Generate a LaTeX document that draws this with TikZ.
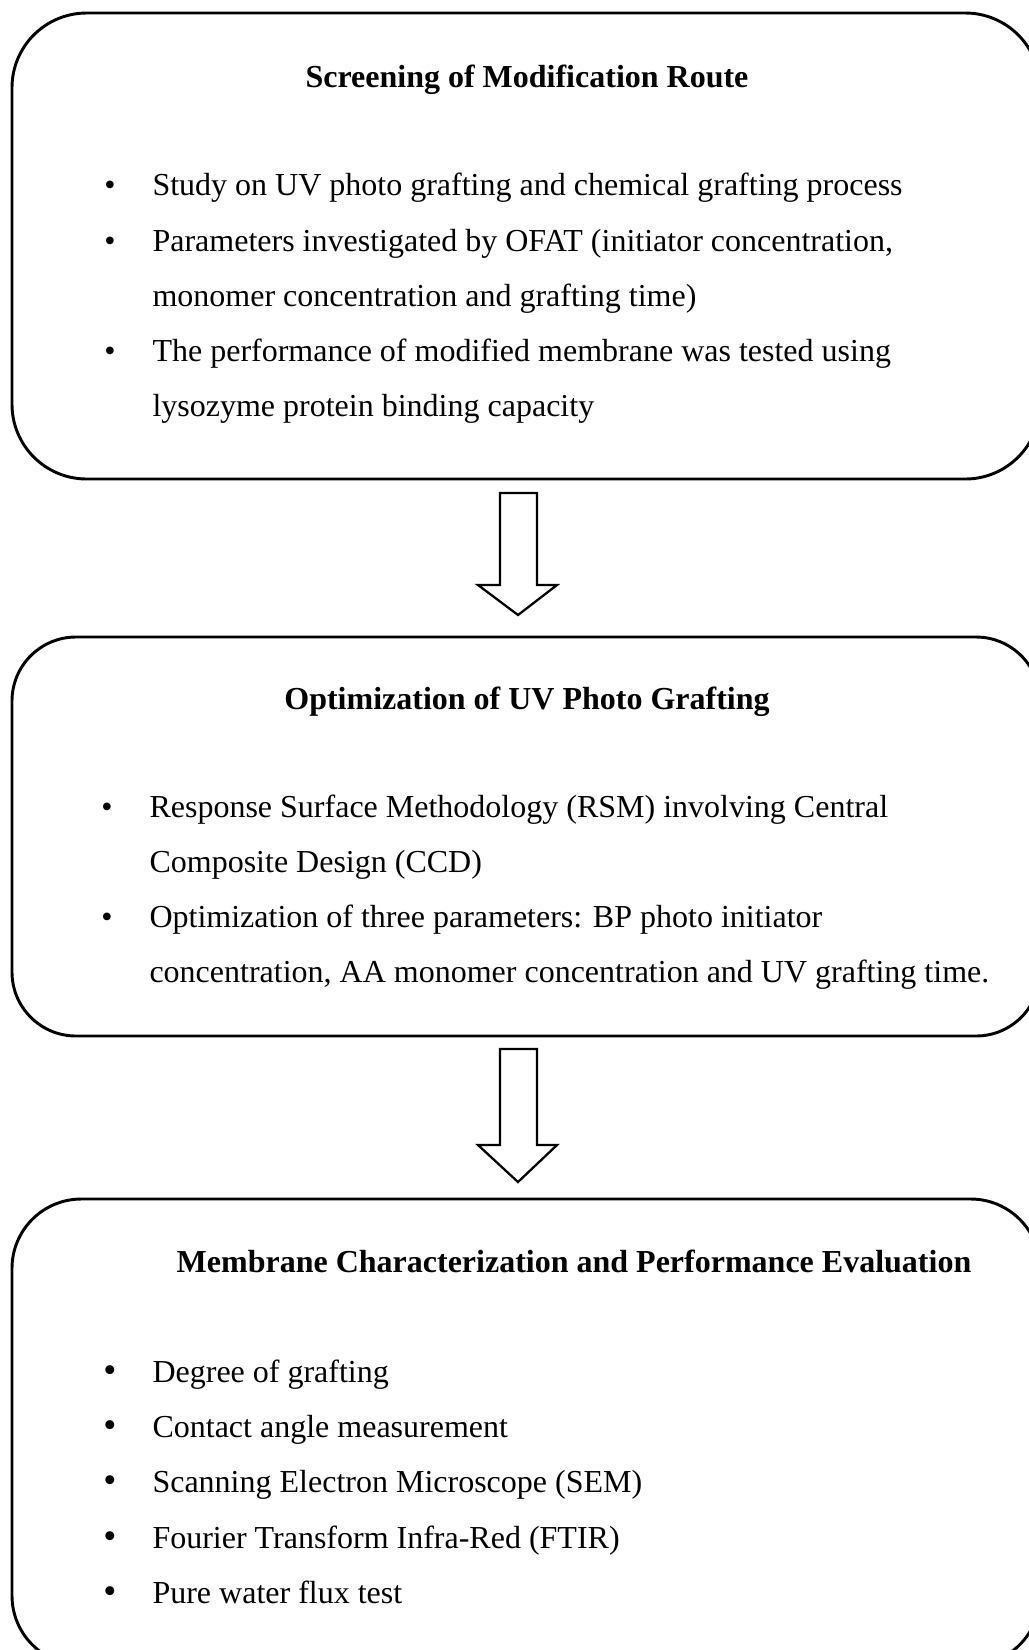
\documentclass[tikz,border=0pt]{standalone}
\usepackage{fontspec}
\setmainfont{Liberation Serif}
\usetikzlibrary{positioning}

\begin{document}
\begin{tikzpicture}[x=0.375pt, y=-0.375pt,
    stage/.style={line width=1.1pt},
    blockarrow/.style={line width=0.85pt, line join=miter},
    heading/.style={font=\fontsize{12pt}{14pt}\selectfont\bfseries, inner sep=0pt, anchor=base},
    bullet/.style={font=\fontsize{12pt}{14pt}\selectfont, inner sep=0pt, anchor=base},
    bigbullet/.style={font=\fontsize{14pt}{16pt}\selectfont, inner sep=0pt, anchor=base},
    entry/.style={font=\fontsize{12pt}{14pt}\selectfont, inner sep=0pt, anchor=base west},
]
    \useasboundingbox (0,0) rectangle (1029,1650);
    \clip (0,0) rectangle (1029,1650);

    % Stage frames (right side runs off the page)
    \draw[stage, rounded corners=28pt] (12,13)   rectangle (1040,479);
    \draw[stage, rounded corners=24pt] (12,637)  rectangle (1040,1036);
    \draw[stage, rounded corners=26pt] (12,1199) rectangle (1040,1665);

    % Screening of modification route
    \node[heading] (screenTitle) at (527,87) {Screening of Modification Route};
    \node[bullet] (screenDotA) at (110,195) {•};
    \node[entry]  (screenA)    at (152,195) {Study on UV photo grafting and chemical grafting process};
    \node[bullet] (screenDotB) at (110,251) {•};
    \node[entry]  (screenB)    at (152,251) {Parameters investigated by OFAT (initiator concentration,};
    \node[entry]  (screenBb)   at (152,306) {monomer concentration and grafting time)};
    \node[bullet] (screenDotC) at (110,361) {•};
    \node[entry]  (screenC)    at (152,361) {The performance of modified membrane was tested using};
    \node[entry]  (screenCb)   at (152,416) {lysozyme protein binding capacity};

    % Arrow 1
    \coordinate (arrowA) at (518,493);
    \draw[blockarrow] (arrowA) ++(-18,0) -- ++(0,92) -- ++(-22,0) -- (518,615)
        -- (557,585) -- ++(-20,0) -- ++(0,-92) -- cycle;

    % Optimization of UV photo grafting
    \node[heading] (optTitle) at (527,709) {Optimization of UV Photo Grafting};
    \node[bullet] (optDotA) at (107,817) {•};
    \node[entry]  (optA)    at (149,817) {Response Surface Methodology (RSM) involving Central};
    \node[entry]  (optAb)   at (149,872) {Composite Design (CCD)};
    \node[bullet] (optDotB) at (107,927) {•};
    \node[entry]  (optB)    at (149,927) {Optimization of three parameters: BP photo initiator};
    \node[entry]  (optBb)   at (149,982) {concentration, AA monomer concentration and UV grafting time.};

    % Arrow 2
    \coordinate (arrowB) at (518,1049);
    \draw[blockarrow] (arrowB) ++(-18,0) -- ++(0,96) -- ++(-22,0) -- (518,1182)
        -- (557,1145) -- ++(-20,0) -- ++(0,-96) -- cycle;

    % Membrane characterization
    \node[heading] (charTitle) at (574,1272) {Membrane Characterization and Performance Evaluation};
    \node[bigbullet] (charDotA) at (110,1382) {•};
    \node[entry]     (charA)    at (152,1382) {Degree of grafting};
    \node[bigbullet] (charDotB) at (110,1437) {•};
    \node[entry]     (charB)    at (152,1437) {Contact angle measurement};
    \node[bigbullet] (charDotC) at (110,1492) {•};
    \node[entry]     (charC)    at (152,1492) {Scanning Electron Microscope (SEM)};
    \node[bigbullet] (charDotD) at (110,1548) {•};
    \node[entry]     (charD)    at (152,1548) {Fourier Transform Infra-Red (FTIR)};
    \node[bigbullet] (charDotE) at (110,1603) {•};
    \node[entry]     (charE)    at (152,1603) {Pure water flux test};
\end{tikzpicture}
\end{document}
